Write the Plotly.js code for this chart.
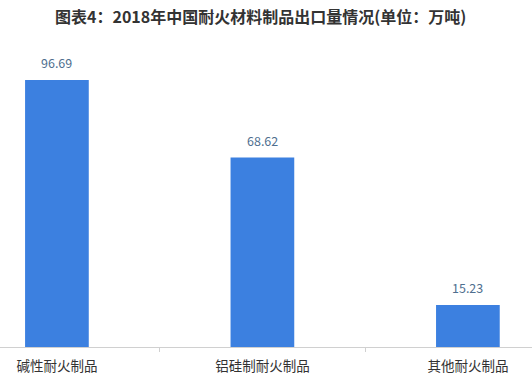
<!DOCTYPE html>
<html>
<head>
<meta charset="utf-8">
<script src="https://cdn.plot.ly/plotly-3.0.1.min.js"></script>
<style>
  html, body { margin: 0; padding: 0; background: #fff; }
  #chart { width: 532px; height: 378px; }
</style>
</head>
<body>
<div id="chart"></div>
<script>
// 2018年中国耐火材料制品出口量（万吨）
const categories = ['碱性耐火制品', '铝硅制耐火制品', '其他耐火制品'];
const exportVolume = [96.69, 68.62, 15.23];
const chartTitle = '图表4：2018年中国耐火材料制品出口量情况(单位：万吨)';

const cjkFont = '"Noto Sans CJK SC", "Noto Sans", sans-serif';

const trace = {
  type: 'bar',
  x: categories,
  y: exportVolume,
  marker: { color: '#3c80e0' },
  hoverinfo: 'x+y'
};

// value labels sit a little above each bar top
const valueLabels = categories.map((c, i) => ({
  x: c,
  y: exportVolume[i],
  xref: 'x',
  yref: 'y',
  text: exportVolume[i].toFixed(2),
  showarrow: false,
  xanchor: 'center',
  yanchor: 'bottom',
  yshift: 6,
  font: { family: cjkFont, size: 12.5, color: '#4f6f8f' }
}));

const layout = {
  width: 532,
  height: 378,
  margin: { l: 0, r: 0, t: 50, b: 31 },
  paper_bgcolor: '#ffffff',
  plot_bgcolor: '#ffffff',
  showlegend: false,
  bargap: 0.69,
  annotations: valueLabels,
  title: {
    text: '<b>' + chartTitle + '</b>',
    font: { family: cjkFont, size: 16, color: '#333333' },
    x: 0.49,
    xanchor: 'center',
    y: 0.955,
    yanchor: 'middle'
  },
  xaxis: {
    type: 'category',
    range: [-0.277, 2.312],
    showline: true,
    linecolor: '#d0d0d0',
    linewidth: 1,
    ticks: 'outside',
    tickson: 'boundaries',
    ticklen: 4,
    tickcolor: '#d0d0d0',
    ticklabelstandoff: 7,
    showgrid: false,
    zeroline: false,
    tickfont: { family: cjkFont, size: 13.5, color: '#333333' },
    fixedrange: true
  },
  yaxis: {
    range: [0, 107.6],
    visible: false,
    showgrid: false,
    zeroline: false,
    fixedrange: true
  }
};

Plotly.newPlot('chart', [trace], layout, { displayModeBar: false, staticPlot: true });
</script>
</body>
</html>
